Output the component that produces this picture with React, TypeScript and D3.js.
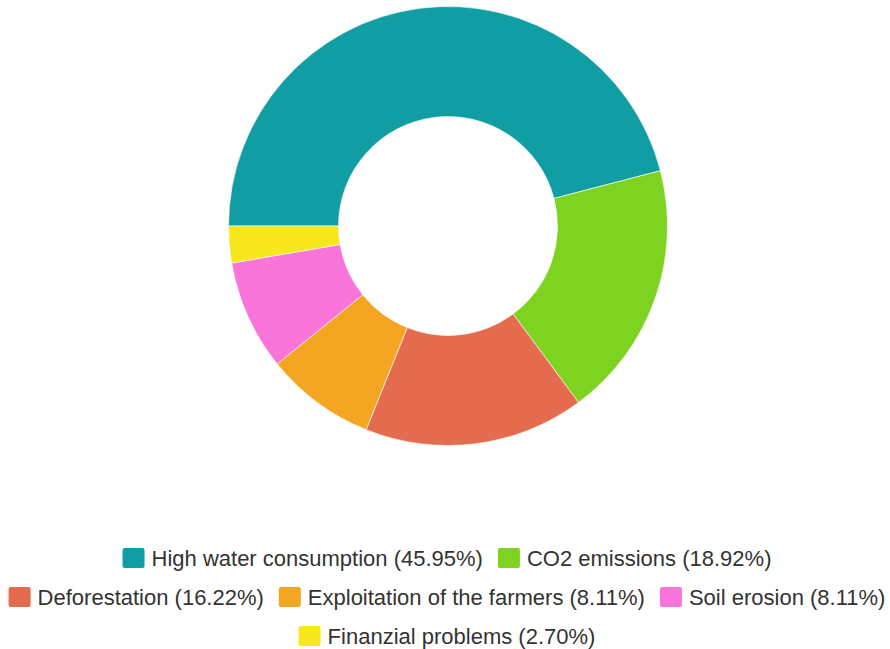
import React, { useEffect, useRef } from "react";
import * as d3 from "d3";

const categories = [
  "High water consumption",
  "CO2 emissions",
  "Deforestation",
  "Exploitation of the farmers",
  "Soil erosion",
  "Finanzial problems",
];
const values = [17, 7, 6, 3, 3, 1];
const colors = ["#119DA4", "#7ED321", "#E56B4E", "#F4A623", "#F975D9", "#F8E71C"];
const legendRows = [[0, 1], [2, 3, 4], [5]];

const W = 890;
const H = 649;

export default function App() {
  const ref = useRef<SVGSVGElement>(null);
  useEffect(() => {
    const svg = d3.select(ref.current);
    svg.selectAll("*").remove();
    const total = d3.sum(values);
    const cx = 448, cy = 226, outerR = 219.5, innerR = 109.5;
    const pie = d3
      .pie<number>()
      .sort(null)
      .value((d) => d)
      .startAngle(-Math.PI / 2)
      .endAngle((3 * Math.PI) / 2);
    const arc = d3.arc<d3.PieArcDatum<number>>().innerRadius(innerR).outerRadius(outerR);
    const g = svg.append("g").attr("transform", `translate(${cx},${cy})`);
    g.selectAll("path")
      .data(pie(values))
      .join("path")
      .attr("d", arc)
      .attr("fill", (_, i) => colors[i])
      .attr("stroke", "#fff")
      .attr("stroke-width", 0.6);

    const fmt = d3.format(".2f");
    const sq = 22, gapText = 7, gapItem = 15, fontSize = 22;
    const rowY = [558, 597, 636];
    legendRows.forEach((row, ri) => {
      const lg = svg.append("g");
      let x = 0;
      row.forEach((i) => {
        const item = lg.append("g").attr("transform", `translate(${x},0)`);
        item
          .append("rect")
          .attr("x", 0)
          .attr("y", -10)
          .attr("width", sq)
          .attr("height", 20)
          .attr("rx", 2)
          .attr("fill", colors[i]);
        const t = item
          .append("text")
          .attr("x", sq + gapText)
          .attr("y", 7.8)
          .attr("font-family", "'Liberation Sans', Arial, sans-serif")
          .attr("font-size", fontSize)
          .attr("fill", "#333")
          .text(`${categories[i]} (${fmt((values[i] / total) * 100)}%)`);
        const tw = (t.node() as SVGTextElement).getComputedTextLength();
        x += sq + gapText + tw + gapItem;
      });
      const rw = x - gapItem;
      lg.attr("transform", `translate(${W / 2 + 2 - rw / 2},${rowY[ri]})`);
    });
  }, []);
  return (
    <svg
      ref={ref}
      width={W}
      height={H}
      style={{ position: "absolute", left: 0, top: 0, background: "#fff" }}
    />
  );
}
